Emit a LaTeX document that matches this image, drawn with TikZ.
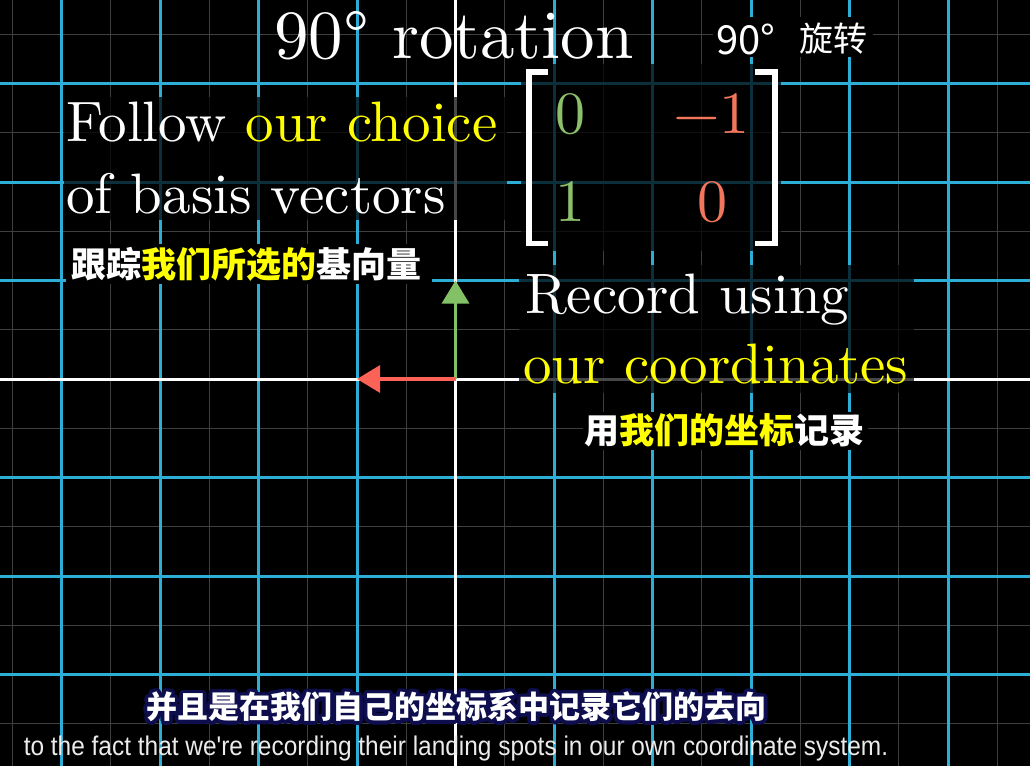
\documentclass[tikz,border=0pt]{standalone}
\usepackage{fontspec}
\usepackage{graphicx}
\usetikzlibrary{arrows.meta,calc}
\setmainfont{lmroman10-regular.otf}
\newfontfamily\cjk{Noto Sans CJK SC}
\newfontfamily\subfont{Liberation Sans}
\definecolor{tyellow}{RGB}{255,255,0}
\definecolor{vgreen}{HTML}{83C167}
\definecolor{vred}{HTML}{FC6255}
\definecolor{mgreen}{HTML}{8CC06B}
\definecolor{mred}{HTML}{F2765C}
\definecolor{gblue}{HTML}{2DAED6}
\definecolor{ggray}{RGB}{62,62,62}
\definecolor{subnavy}{RGB}{14,14,78}
\tikzset{
  gridfine/.style={ggray, line width=1.1pt},
  gridmain/.style={gblue, line width=3pt},
  axisline/.style={white, line width=3pt},
  dimbox/.style={fill=black, fill opacity=0.72, draw=none},
  hidebox/.style={fill=black, draw=none},
  bigtext/.style={inner sep=0pt, outer sep=0pt, text=white, font={\fontsize{57}{60}\selectfont}},
  mtxtext/.style={inner sep=0pt, outer sep=0pt, anchor=base, font={\fontsize{60}{60}\selectfont}},
  cjklabel/.style={inner sep=0pt, outer sep=0pt, text=white, anchor=west, font={\cjk\bfseries\fontsize{35}{40}\selectfont}},
  subzh/.style={inner sep=0pt, outer sep=0pt, font={\cjk\bfseries\fontsize{31}{34}\selectfont}},
  bracketline/.style={white, line width=5.7pt, line join=miter},
  vecarrow/.style={line width=3.2pt, -{Triangle[width=27pt,length=23pt]}}
}
\begin{document}
\begin{tikzpicture}[x=1pt,y=-1pt]
\useasboundingbox (0,0) rectangle (1030,766);
\fill[black] (0,0) rectangle (1030,766);
% fine grid
\foreach \k in {-5,...,5} \draw[gridfine] ({455.5+98.5*(\k+0.5)},0) -- ({455.5+98.5*(\k+0.5)},766);
\foreach \k in {-4,...,3} \draw[gridfine] (0,{379+98.5*(\k+0.5)}) -- (1030,{379+98.5*(\k+0.5)});
% main grid
\foreach \k in {-4,-3,-2,-1,1,2,3,4,5} \draw[gridmain] ({455.5+98.5*\k},0) -- ({455.5+98.5*\k},766);
\foreach \k in {-3,-2,-1,1,2,3} \draw[gridmain] (0,{379+98.5*\k}) -- (1030,{379+98.5*\k});
% axes
\draw[axisline] (455.5,0) -- (455.5,766);
\draw[axisline] (0,379) -- (1030,379);
% backgrounds behind texts
\fill[dimbox] (64,97) rectangle (507,220);
\fill[dimbox] (521,64) rectangle (781,251);
\fill[dimbox] (519,265) rectangle (914,393);
\fill[hidebox] (66,244) rectangle (432,284);
\fill[hidebox] (713,17) rectangle (873,57);
\fill[hidebox] (583,412) rectangle (868,450);
% vectors
\coordinate (O) at (455.5,379);
\coordinate (J) at (455.5,280.5);
\coordinate (I) at (357,379);
\draw[vecarrow, vgreen] (O) -- (J);
\draw[vecarrow, vred] (O) -- (I);
% title
\node[inner sep=0pt, anchor=base west, text=white, font={\fontsize{69}{80}\selectfont}] (title) at (274,58.3) {90° rotation};
\node[inner sep=0pt, anchor=west, text=white, font={\cjk\fontsize{40}{40}\selectfont}] (deg) at (716,39) {90°};
\node[inner sep=0pt, anchor=west, text=white, font={\cjk\fontsize{34}{40}\selectfont}] (rot) at (799,39) {旋转};
% left text
\node[bigtext, anchor=base west] (fa) at (66,141.7) {Follow \textcolor{tyellow}{our choice}};
\node[bigtext, anchor=base west] (fb) at (66,213.3) {of basis vectors};
\node[cjklabel] (za) at (71,264) {跟踪\textcolor{tyellow}{我们所选的}基向量};
% matrix
\draw[bracketline] (548,72) -- (529,72) -- (529,243.5) -- (548,243.5);
\draw[bracketline] (755,72) -- (775.3,72) -- (775.3,243.5) -- (755,243.5);
\node[mtxtext, text=mgreen] (m11) at (570,133.3) {0};
\node[mtxtext, text=mred] (m12) at (711.5,133.3) {−1};
\node[mtxtext, text=mgreen] (m21) at (570,221.7) {1};
\node[mtxtext, text=mred] (m22) at (712.5,221.7) {0};
% right text
\node[bigtext, anchor=base west] (ra) at (525,313) {Record using};
\node[bigtext, anchor=base west, text=tyellow] (rb) at (523,383.3) {our coordinates};
\node[cjklabel] (zb) at (584,430) {用\textcolor{tyellow}{我们的坐标}记录};
% subtitles
\coordinate (subc) at (456.5,707);
\foreach \a in {0,15,...,345} \node[subzh, text=subnavy] at ($(subc)+(\a:3.6)$) {并且是在我们自己的坐标系中记录它们的去向};
\node[subzh, text=white] (subzh) at (subc) {并且是在我们自己的坐标系中记录它们的去向};
\node[inner sep=0pt, anchor=base, text=white!92!black, font={\subfont\fontsize{27}{30}\selectfont}] (suben) at (456,755) {\scalebox{0.905}[1]{to the fact that we're recording their landing spots in our own coordinate system.}};
\end{tikzpicture}
\end{document}
